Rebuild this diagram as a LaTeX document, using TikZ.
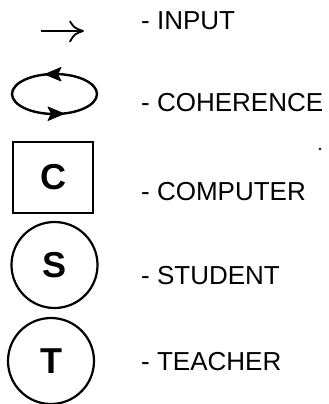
\documentclass[tikz,border=0pt]{standalone}
\usepackage{fontspec}
\setmainfont{Liberation Sans}
\begin{document}
\begin{tikzpicture}[x=1pt,y=1pt,
  legend/.style={anchor=base west, inner sep=0pt, font=\fontsize{26}{30}\selectfont},
  icon/.style={draw, line width=2.2pt, inner sep=0pt, font=\fontsize{36}{40}\selectfont\bfseries},
  barb/.style={line width=1.8pt, line cap=round, line join=round},
  loophead/.style={fill, line join=round, line width=0.8pt, draw}]
\useasboundingbox (0,0) rectangle (329,-404);

% input arrow with curved barbs
\coordinate (inA) at (41,-31);
\coordinate (inB) at (83,-31);
\draw[line width=1.7pt] (inA) -- (inB);
\draw[barb] (70,-21.5) .. controls (74.5,-28) .. (inB) .. controls (74.5,-34) .. (70,-41.5);

% coherence loop with two heads
\coordinate (loopc) at (54.5,-94);
\draw[line width=2.4pt] (loopc) ellipse [x radius=42.5, y radius=20];
\draw[loophead] (45,-74.3) -- (61,-67.5) -- (57.5,-74.3) -- (61,-81) -- cycle;
\draw[loophead] (64,-113.7) -- (48,-107) -- (51.5,-113.7) -- (48,-120.5) -- cycle;

% computer, student, teacher symbols
\node[icon, rectangle, minimum width=80pt, minimum height=71pt] (comp) at (53,-177.5) {C};
\node[icon, circle, minimum size=86pt] (stud) at (54.5,-265) {S};
\node[icon, circle, minimum size=86pt] (teach) at (51,-361) {T};

% legend texts
\node[legend] (lin) at (141,-30) {- INPUT};
\node[legend] (lcoh) at (141,-111) {- COHERENCE};
\node[legend] (lcomp) at (141,-200) {- COMPUTER};
\node[legend] (lstud) at (141,-284) {- STUDENT};
\node[legend] (lteach) at (141,-370) {- TEACHER};

\fill (320,-149) circle (1.3pt);
\end{tikzpicture}
\end{document}
